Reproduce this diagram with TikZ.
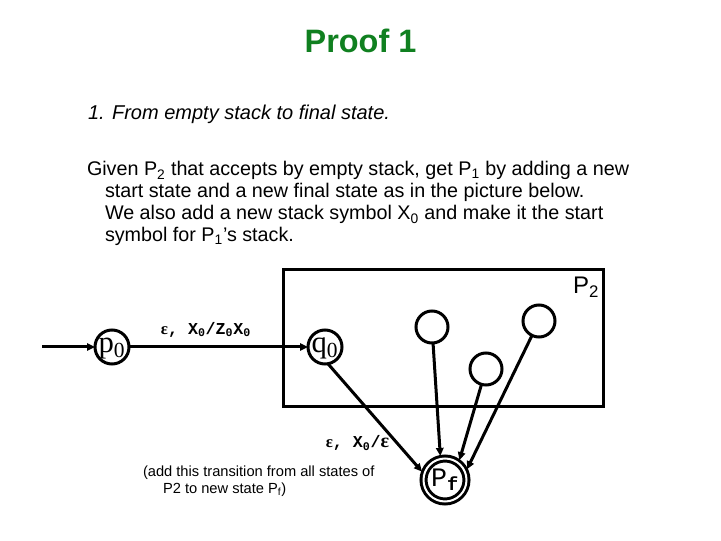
\documentclass[tikz,border=0pt]{standalone}
\usepackage{fontspec}
\setmainfont{Liberation Sans}
\newfontfamily\serifstate{Liberation Serif}
\newfontfamily\monof{Liberation Mono}
\usetikzlibrary{arrows.meta}
\definecolor{titlegreen}{RGB}{16,128,32}
\begin{document}
\begin{tikzpicture}[x=0.75pt,y=-0.75pt,
  thick line/.style={line width=2.25pt},
  state/.style={circle,draw,thick line,inner sep=0pt,outer sep=0pt,minimum size=#1},
  arr/.style={thick line,-{Triangle[length=6pt,width=5.5pt]}},
  txt/.style={inner sep=0pt,outer sep=0pt,anchor=base west},
  statelbl/.style={inner sep=0pt,font=\serifstate\fontsize{23pt}{26pt}\selectfont},
  trlbl/.style={inner sep=0pt,font=\monof\bfseries\fontsize{12.5pt}{14pt}\selectfont}]
\useasboundingbox (0,0) rectangle (721,541);

% texts
\node[inner sep=0pt,anchor=base,text=titlegreen,font=\bfseries\fontsize{24.3pt}{28pt}\selectfont] (title) at (360.5,53) {Proof 1};
\node[txt,font=\itshape\fontsize{15pt}{18pt}\selectfont] (head) at (88,120) {1. From empty stack to final state.};
\begin{scope}[every node/.style={txt,font=\fontsize{14.8pt}{18pt}\selectfont}]
\node (l1) at (87,176) {Given P\textsubscript{2} that accepts by empty stack, get P\textsubscript{1} by adding a new};
\node (l2) at (105,198) {start state and a new final state as in the picture below.};
\node (l3) at (105,220) {We also add a new stack symbol X\textsubscript{0} and make it the start};
\node (l4) at (105,242) {symbol for P\textsubscript{1}'s stack.};
\end{scope}
\begin{scope}[every node/.style={txt,font=\fontsize{11pt}{13pt}\selectfont}]
\node (n1) at (143,476) {(add this transition from all states of};
\node (n2) at (163,493) {P2 to new state P\textsubscript{f})};
\end{scope}

% box P2
\node[draw,thick line,inner sep=0pt,outer sep=0pt,minimum width=240pt,minimum height=102.75pt] (box) at (443,338.5) {};
\node[txt,font=\fontsize{18pt}{20pt}\selectfont] (p2lbl) at (573,294) {P\textsubscript{2}};

% states
\coordinate (start) at (42,347);
\node[state=25.5pt,label={[statelbl,yshift=-1pt]center:p\textsubscript{0}}] (p0) at (112,347) {};
\node[state=25.5pt,label={[statelbl,yshift=-1pt]center:q\textsubscript{0}}] (q0) at (325,347) {};
\node[state=24pt] (A) at (432,327) {};
\node[state=24pt] (B) at (486,369) {};
\node[state=24pt] (C) at (539,321) {};
\node[circle,draw,thick line,double,double distance=1.5pt,inner sep=0pt,outer sep=2.25pt,minimum size=32.25pt,
  label={[inner sep=0pt]center:{\monof\fontsize{20pt}{22pt}\selectfont P\textsubscript{\bfseries f}}}] (Pf) at (445,480) {};

% connectors
\draw[arr] (start) -- (p0);
\draw[arr] (p0) -- node[trlbl,pos=0.43,anchor=south,yshift=6pt] (t1) {{\serifstate ε},\ X\textsubscript{0}/Z\textsubscript{0}X\textsubscript{0}} (q0);
\draw[arr] (q0.-80) -- node[trlbl,pos=0.78,anchor=base east,xshift=-8pt] (t2) {{\serifstate ε},\ X\textsubscript{0}/{\serifstate\fontsize{15pt}{16pt}\selectfont ε}} (Pf.160);
\draw[arr] (A) -- (Pf.101);
\draw[arr] (B) -- (Pf.54);
\draw[arr] (C) -- (Pf.26);
\end{tikzpicture}
\end{document}
